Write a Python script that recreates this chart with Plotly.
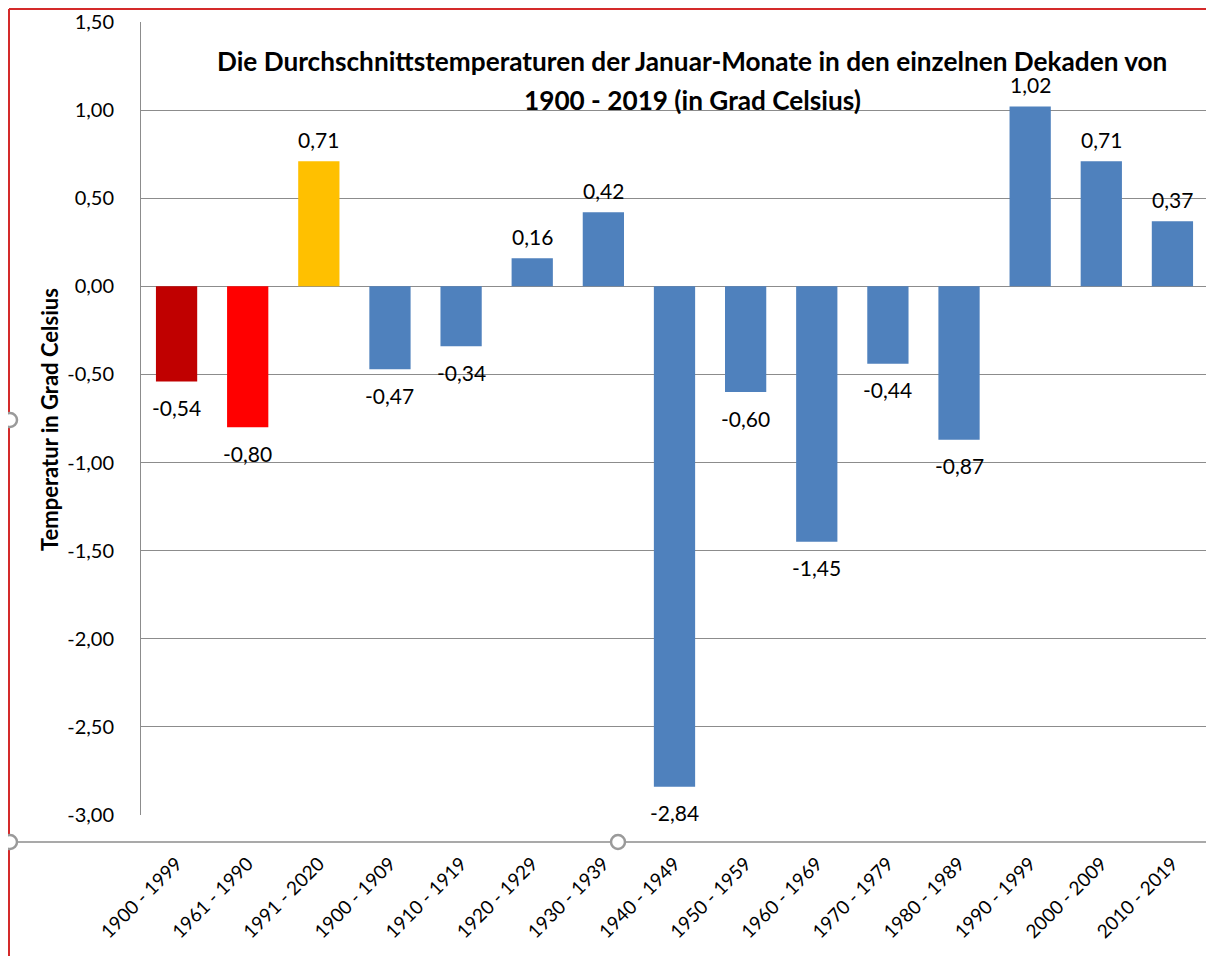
import plotly.graph_objects as go

categories = ["1900 - 1999", "1961 - 1990", "1991 - 2020", "1900 - 1909", "1910 - 1919",
              "1920 - 1929", "1930 - 1939", "1940 - 1949", "1950 - 1959", "1960 - 1969",
              "1970 - 1979", "1980 - 1989", "1990 - 1999", "2000 - 2009", "2010 - 2019"]
values = [-0.54, -0.80, 0.71, -0.47, -0.34, 0.16, 0.42, -2.84, -0.60, -1.45,
          -0.44, -0.87, 1.02, 0.71, 0.37]
bar_colors = ["#C00000", "#FF0000", "#FFC000"] + ["#4F81BD"] * 12
y_ticks = [1.5, 1.0, 0.5, 0.0, -0.5, -1.0, -1.5, -2.0, -2.5, -3.0]

OFF = 8  # page body margin
W, H = 1214 - OFF, 956 - OFF
L, R, T, B = 141, 1208, 22, 815  # plot area in page pixels
PW, PH = R - L, B - T

def px(x):
    return (x - L) / PW

def py(y):
    return (B - y) / PH

def de(v):
    return f"{v:.2f}".replace(".", ",")

FONT = "Lato"

fig = go.Figure(go.Bar(
    x=categories, y=values, marker_color=bar_colors, marker_line_width=0,
    cliponaxis=False, hoverinfo="x+y",
))

grid = "#8C8C8C"
fig.update_layout(
    width=W, height=H,
    margin=dict(l=L - OFF, r=(W + OFF) - R, t=T - OFF, b=(H + OFF) - B, autoexpand=False),
    paper_bgcolor="white", plot_bgcolor="white",
    bargap=0.42, showlegend=False,
    font=dict(family=FONT, color="#000000"),
    xaxis=dict(type="category", range=[-0.5, 14.5], showgrid=False, zeroline=False,
               showline=False, tickangle=-45, ticks="", ticklabelstandoff=33,
               tickfont=dict(family=FONT, size=19)),
    yaxis=dict(range=[-3, 1.5], tickvals=y_ticks, ticktext=[de(v) for v in y_ticks],
               showgrid=True, gridcolor=grid, gridwidth=1, zeroline=True, zerolinecolor=grid,
               zerolinewidth=1, showline=True, linecolor=grid, linewidth=1,
               ticks="", ticklabelstandoff=22, tickfont=dict(family=FONT, size=20)),
)

# data labels
for c, v in zip(categories, values):
    fig.add_annotation(x=c, y=v, xref="x", yref="y", showarrow=False,
                       xanchor="center", yanchor="middle",
                       text=de(v), yshift=22 if v >= 0 else -26,
                       font=dict(family=FONT, size=21, color="#000000"))

fig.add_annotation(text="<b>Die Durchschnittstemperaturen der Januar-Monate in den einzelnen Dekaden von</b>",
                   xref="paper", yref="paper", x=px(692), y=py(61), showarrow=False,
                   xanchor="center", yanchor="middle",
                   font=dict(family=FONT, size=26.2, color="#000000"))
fig.add_annotation(text="<b>1900 - 2019 (in Grad Celsius)</b>",
                   xref="paper", yref="paper", x=px(692), y=py(100), showarrow=False,
                   xanchor="center", yanchor="middle",
                   font=dict(family=FONT, size=26.2, color="#000000"))
fig.add_annotation(text="<b>Temperatur in Grad Celsius</b>", textangle=-90,
                   xref="paper", yref="paper", x=px(50), y=py(420), showarrow=False,
                   xanchor="center", yanchor="middle",
                   font=dict(family=FONT, size=22, color="#000000"))

shapes = []
# outer frame lines (red border)
shapes.append(dict(type="line", xref="paper", yref="paper", x0=px(9), x1=px(1214),
                   y0=py(9), y1=py(9), line=dict(color="#D42A2A", width=2)))
shapes.append(dict(type="line", xref="paper", yref="paper", x0=px(9), x1=px(9),
                   y0=py(9), y1=py(956), line=dict(color="#D42A2A", width=2)))
# extra horizontal line below plot
shapes.append(dict(type="line", xref="paper", yref="paper", x0=px(10), x1=px(1214),
                   y0=py(842), y1=py(842), line=dict(color="#8C8C8C", width=1.5)))
# selection handles
for cx, cy in [(10, 420), (10, 842), (618, 842)]:
    shapes.append(dict(type="circle", xref="paper", yref="paper",
                       x0=px(cx - 7), x1=px(cx + 7), y0=py(cy + 7), y1=py(cy - 7),
                       fillcolor="white", line=dict(color="#9A9A9A", width=2.5)))
fig.update_layout(shapes=shapes)

fig.write_html("out.html")
